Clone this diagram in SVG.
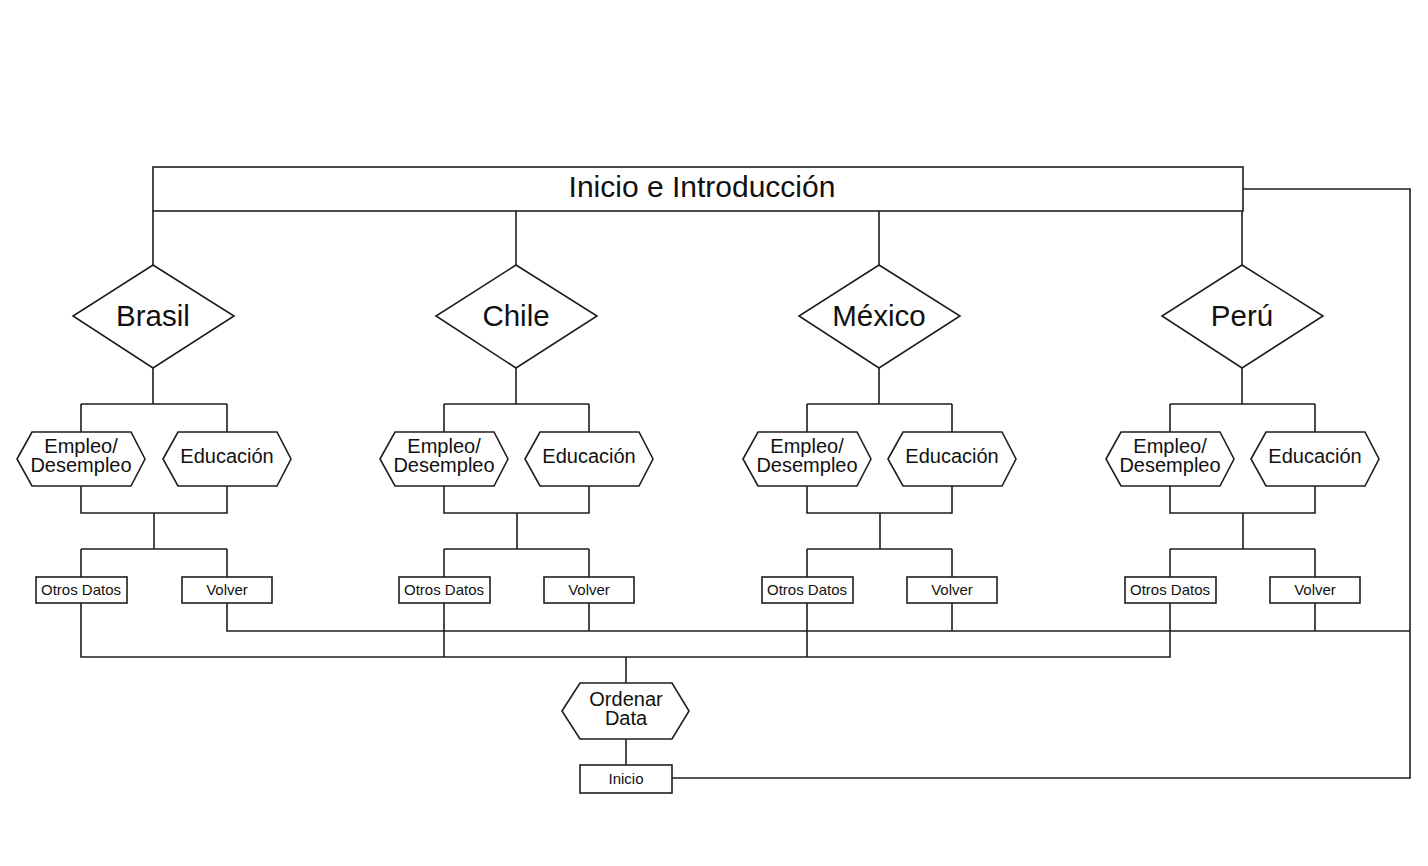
<svg xmlns="http://www.w3.org/2000/svg" width="1428" height="866" viewBox="0 0 1428 866">
<style>
.s{fill:#fff;stroke:#1e1e1e;stroke-width:1.6}
.c{fill:none;stroke:#1e1e1e;stroke-width:1.6}
text{font-family:"Liberation Sans",Arial,sans-serif;fill:#111;text-anchor:middle}
.t1{font-size:30px}
.t2{font-size:29.5px}
.t3{font-size:20px}
.t4{font-size:15px}
</style>
<rect width="1428" height="866" fill="#fff"/>
<g id="connectors" class="c">
<path d="M1243,189 H1410 V778 H671"/>
<path d="M153,211 V265 M516,211 V265 M879,211 V265 M1242,211 V265"/>
<path d="M227,603 V631 H1410 M589,603 V631 M952,603 V631 M1315,603 V631"/>
<path d="M81,603 V657 H1170 V603 M444,603 V657 M807,603 V657"/>
<path d="M626,657 V683 M626,739 V765"/>
<path d="M153,368 V404 M81,404 H227 M81,404 V432 M227,404 V432 M81,486 V513 H227 V486 M154,513 V549 M81,549 H227 M81,549 V577 M227,549 V577"/>
<path d="M516,368 V404 M444,404 H589 M444,404 V432 M589,404 V432 M444,486 V513 H589 V486 M517,513 V549 M444,549 H589 M444,549 V577 M589,549 V577"/>
<path d="M879,368 V404 M807,404 H952 M807,404 V432 M952,404 V432 M807,486 V513 H952 V486 M880,513 V549 M807,549 H952 M807,549 V577 M952,549 V577"/>
<path d="M1242,368 V404 M1170,404 H1315 M1170,404 V432 M1315,404 V432 M1170,486 V513 H1315 V486 M1243,513 V549 M1170,549 H1315 M1170,549 V577 M1315,549 V577"/>
</g>
<g id="title"><rect class="s" x="153" y="167" width="1090" height="44"/><text class="t1" x="702" y="197">Inicio e Introducción</text></g>

<g id="brasil"><polygon class="s" points="153,265 234,316 153,368 73,316"/><text class="t2" x="153" y="326">Brasil</text></g>
<g id="brasil-empleo"><polygon class="s" points="17,459 32,432 131,432 145,459 131,486 32,486"/><text class="t3" x="81" y="453">Empleo/</text><text class="t3" x="81" y="472">Desempleo</text></g>
<g id="brasil-educacion"><polygon class="s" points="163,459 178,432 277,432 291,459 277,486 178,486"/><text class="t3" x="227" y="463">Educación</text></g>
<g id="brasil-otros"><rect class="s" x="36" y="577" width="91" height="26"/><text class="t4" x="81" y="595">Otros Datos</text></g>
<g id="brasil-volver"><rect class="s" x="182" y="577" width="90" height="26"/><text class="t4" x="227" y="595">Volver</text></g>

<g id="chile"><polygon class="s" points="516,265 597,316 516,368 436,316"/><text class="t2" x="516" y="326">Chile</text></g>
<g id="chile-empleo"><polygon class="s" points="380,459 395,432 494,432 508,459 494,486 395,486"/><text class="t3" x="444" y="453">Empleo/</text><text class="t3" x="444" y="472">Desempleo</text></g>
<g id="chile-educacion"><polygon class="s" points="525,459 540,432 639,432 653,459 639,486 540,486"/><text class="t3" x="589" y="463">Educación</text></g>
<g id="chile-otros"><rect class="s" x="399" y="577" width="91" height="26"/><text class="t4" x="444" y="595">Otros Datos</text></g>
<g id="chile-volver"><rect class="s" x="544" y="577" width="90" height="26"/><text class="t4" x="589" y="595">Volver</text></g>

<g id="mexico"><polygon class="s" points="879,265 960,316 879,368 799,316"/><text class="t2" x="879" y="326">México</text></g>
<g id="mexico-empleo"><polygon class="s" points="743,459 758,432 857,432 871,459 857,486 758,486"/><text class="t3" x="807" y="453">Empleo/</text><text class="t3" x="807" y="472">Desempleo</text></g>
<g id="mexico-educacion"><polygon class="s" points="888,459 903,432 1002,432 1016,459 1002,486 903,486"/><text class="t3" x="952" y="463">Educación</text></g>
<g id="mexico-otros"><rect class="s" x="762" y="577" width="91" height="26"/><text class="t4" x="807" y="595">Otros Datos</text></g>
<g id="mexico-volver"><rect class="s" x="907" y="577" width="90" height="26"/><text class="t4" x="952" y="595">Volver</text></g>

<g id="peru"><polygon class="s" points="1242,265 1323,316 1242,368 1162,316"/><text class="t2" x="1242" y="326">Perú</text></g>
<g id="peru-empleo"><polygon class="s" points="1106,459 1121,432 1220,432 1234,459 1220,486 1121,486"/><text class="t3" x="1170" y="453">Empleo/</text><text class="t3" x="1170" y="472">Desempleo</text></g>
<g id="peru-educacion"><polygon class="s" points="1251,459 1266,432 1365,432 1379,459 1365,486 1266,486"/><text class="t3" x="1315" y="463">Educación</text></g>
<g id="peru-otros"><rect class="s" x="1125" y="577" width="91" height="26"/><text class="t4" x="1170" y="595">Otros Datos</text></g>
<g id="peru-volver"><rect class="s" x="1270" y="577" width="90" height="26"/><text class="t4" x="1315" y="595">Volver</text></g>

<g id="ordenar"><polygon class="s" points="562,711 580,683 672,683 689,711 672,739 580,739"/><text class="t3" x="626" y="706">Ordenar</text><text class="t3" x="626" y="725">Data</text></g>
<g id="inicio"><rect class="s" x="580" y="765" width="92" height="28"/><text class="t4" x="626" y="784">Inicio</text></g>
</svg>
